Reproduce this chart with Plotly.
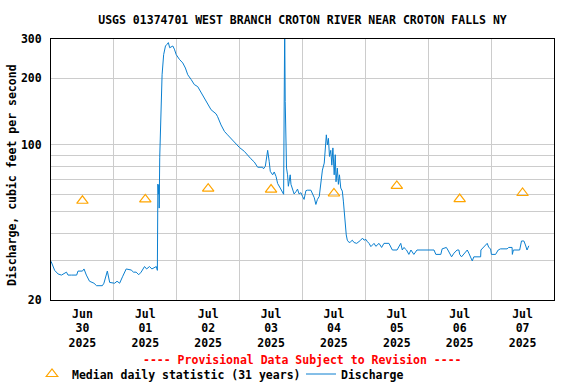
import pandas as pd
import plotly.graph_objects as go

# ---- data ----
# hours since 2025-06-30 00:00 and discharge (cfs)
hours = [0.0, 1.4, 2.7, 4.0, 5.9, 6.5, 7.8, 9.8, 10.3, 12.0, 12.6, 13.0, 13.5, 14.7, 16.4, 17.4,
         18.6, 19.6, 20.2, 21.0, 21.5, 22.4, 24.3, 25.2, 26.2, 27.4, 28.7, 30.6, 31.5, 32.5, 33.5,
         34.4, 35.7, 36.5, 37.6, 38.5, 39.5, 40.2, 40.6, 40.8, 41.0, 41.2, 41.3, 41.5, 42.1, 42.4,
         43.0, 43.7, 44.3, 44.8, 45.3, 45.9, 46.5, 47.1, 47.8, 49.0, 50.3, 51.3, 52.2, 53.5, 54.7,
         56.0, 57.3, 58.6, 59.8, 61.1, 63.0, 63.6, 64.9, 66.2, 67.4, 68.7, 70.4, 71.9, 73.8, 75.0,
         76.3, 77.6, 78.3, 78.9, 80.8, 81.1, 81.8, 82.7, 83.3, 83.7, 84.6, 85.2, 85.9, 86.5, 87.5,
         88.2, 88.8, 89.0, 89.2, 89.4, 89.7, 89.9, 90.3, 90.6, 90.9, 91.3, 91.6, 92.2, 92.8, 93.5,
         94.1, 94.7, 95.4, 96.0, 96.6, 97.3, 97.9, 99.2, 99.8, 100.5, 101.1, 101.7, 102.4, 103.0,
         103.6, 104.3, 104.7, 105.1, 105.5, 105.9, 106.3, 106.8, 107.2, 107.6, 108.1, 108.5, 108.8,
         109.3, 109.7, 110.1, 110.6, 111.2, 111.6, 112.2, 112.7, 113.1, 113.8, 114.4, 115.0, 115.7,
         116.7, 118.2, 118.9, 119.5, 120.2, 120.8, 121.4, 122.1, 123.3, 124.0, 125.2, 126.2, 127.1,
         129.0, 130.3, 132.1, 133.5, 134.1, 134.7, 135.7, 136.6, 137.4, 138.5, 139.7, 146.2, 146.9,
         148.8, 149.3, 150.9, 151.5, 152.1, 152.9, 153.8, 155.0, 155.7, 156.0, 156.7, 157.6, 158.9,
         159.5, 160.2, 160.8, 161.4, 164.0, 164.1, 165.2, 166.5, 167.1, 167.8, 168.1, 169.7, 170.7,
         171.6, 174.1, 174.7, 176.0, 176.1, 176.5, 178.9, 179.6, 180.5, 181.1, 181.7, 182.4]
discharge = [29.9, 27.2, 26.2, 25.9, 26.7, 25.9, 25.9, 25.9, 27.0, 27.0, 27.6, 26.5, 25.9, 24.3, 23.8, 23.2,
             23.2, 23.2, 23.8, 25.5, 27.0, 24.0, 23.8, 24.3, 23.8, 25.6, 27.6, 27.3, 26.7, 26.7, 26.0,
             26.7, 28.3, 27.6, 28.3, 27.6, 27.9, 28.3, 27.2, 66.6, 60.0, 66.0, 51.9, 88.0, 157, 207,
             255, 279, 284, 289, 274, 276, 279, 270, 255, 243, 234, 222, 207, 197, 187,
             183, 172, 160, 152, 144, 138, 134, 123, 115, 111, 107, 102, 97.4, 93.5, 89.7,
             86.6, 83.7, 80.6, 79.3, 79.3, 78.0, 80.0, 94.5, 84.0, 76.0, 73.3, 75.5, 72.1, 67.0, 63.9,
             61.9, 59.9, 149.6, 340, 157, 93.4, 78.6, 73.3, 65.1, 68.2, 73.3, 66.4, 63.1, 60.1, 61.5,
             63.2, 60.1, 60.9, 58.6, 56.8, 62.2, 62.5, 62.5, 59.8, 57.8, 53.9, 56.8, 58.6, 68.2,
             77.0, 82.8, 93.4, 111, 100, 107, 88.7, 94.5, 81.0, 96.9, 73.3, 90.3, 68.2,
             78.6, 66.4, 73.3, 63.9, 61.9, 55.8, 43.7, 39.3, 37.2, 36.3, 36.6, 37.2, 36.3,
             36.0, 37.2, 38.0, 37.2, 37.5, 36.6, 36.0, 34.8, 36.0, 34.9, 36.0, 34.5, 36.0,
             36.0, 33.6, 33.6, 36.0, 33.6, 34.5, 33.6, 32.1, 33.6, 32.1, 33.6, 33.6, 32.1,
             32.1, 34.0, 34.5, 33.6, 32.5, 31.3, 32.5, 33.6, 33.6, 32.1, 31.3, 32.1, 33.6,
             32.5, 31.3, 30.0, 31.3, 31.3, 33.6, 34.8, 36.0, 34.5, 34.0, 32.1, 32.1, 33.6,
             34.0, 34.0, 34.5, 34.5, 32.1, 33.6, 33.6, 36.9, 36.9, 35.4, 33.6, 35.1]

median_dates = ["2025-06-30 12:00", "2025-07-01 12:00", "2025-07-02 12:00", "2025-07-03 12:00",
                "2025-07-04 12:00", "2025-07-05 12:00", "2025-07-06 12:00", "2025-07-07 12:00"]
median_flow = [56.0, 56.8, 63.5, 62.9, 60.4, 65.3, 57.0, 60.7]

day_label_dates = median_dates
day_labels = ["Jun<br>30<br>2025", "Jul<br>01<br>2025", "Jul<br>02<br>2025", "Jul<br>03<br>2025",
              "Jul<br>04<br>2025", "Jul<br>05<br>2025", "Jul<br>06<br>2025", "Jul<br>07<br>2025"]
midnights = ["2025-07-01", "2025-07-02", "2025-07-03", "2025-07-04", "2025-07-05", "2025-07-06",
             "2025-07-07"]
y_tick_vals = [20, 30, 40, 50, 60, 70, 80, 90, 100, 200, 300]
y_tick_text = ["20", "", "", "", "", "", "", "", "100", "200", "300"]
x_range = ["2025-06-30 00:00", "2025-07-08 00:00"]

times = pd.Timestamp("2025-06-30") + pd.to_timedelta(hours, unit="h")

FONT = "DejaVu Sans Mono"
f = dict(family=FONT, size=11.5, color="black", weight="bold")

PW, PH = 503, 261  # plot area size in px (l=51, t=39)

fig = go.Figure()
fig.add_trace(go.Scatter(x=times, y=discharge, mode="lines", name="Discharge",
                         line=dict(color="#0a7fd0", width=1), legend="legend2"))
fig.add_trace(go.Scatter(x=median_dates, y=median_flow, mode="markers", xaxis="x2",
                         name="Median daily statistic (31 years)",
                         marker=dict(symbol="triangle-up-open", size=10, color="#ffa500",
                                     line=dict(width=1.2, color="#ffa500")),
                         legend="legend"))

leg_common = dict(orientation="h", xanchor="left", yanchor="middle", font=f,
                  bgcolor="rgba(0,0,0,0)", itemwidth=30, borderwidth=0)

fig.update_layout(
    width=576, height=384,
    margin=dict(l=51, r=22, t=39, b=84, autoexpand=False),
    paper_bgcolor="white", plot_bgcolor="white",
    font=f,
    title=dict(text="USGS 01374701 WEST BRANCH CROTON RIVER NEAR CROTON FALLS NY",
               x=0.5, xref="paper", y=1 - 20 / 384, yref="container", yanchor="middle",
               xanchor="center", font=f),
    xaxis=dict(type="date", range=x_range, tickmode="array", tickvals=midnights,
               showticklabels=False, ticks="", showgrid=True, gridcolor="#cccccc", gridwidth=1,
               showline=True, linecolor="black", linewidth=1, mirror=True, zeroline=False),
    xaxis2=dict(type="date", range=x_range, overlaying="x", side="bottom", anchor="y",
                tickmode="array", tickvals=day_label_dates, ticktext=day_labels,
                showgrid=False, ticks="", tickfont=f, showline=False, zeroline=False,
                ticklabelstandoff=5),
    yaxis=dict(type="log", range=[1.30103, 2.4771213], tickmode="array", tickvals=y_tick_vals,
               ticktext=y_tick_text, showgrid=True, gridcolor="#cccccc", gridwidth=1, ticks="",
               showline=True, linecolor="black", linewidth=1, mirror=True, zeroline=False,
               tickfont=f, ticklabelstandoff=6),
    showlegend=True,
    legend=dict(x=(32 - 51) / PW, y=(300 - 374) / PH, **leg_common),
    legend2=dict(x=(301 - 51) / PW, y=(300 - 374) / PH, **leg_common),
    annotations=[
        dict(text="---- Provisional Data Subject to Revision ----", xref="paper", yref="paper",
             x=0.5, y=(300 - 360) / PH, xanchor="center", yanchor="middle", showarrow=False,
             font=dict(family=FONT, size=11.5, color="#ff0000", weight="bold")),
        dict(text="Discharge, cubic feet per second", xref="paper", yref="paper",
             x=(11.3 - 51) / PW, y=(300 - 174.7) / PH, xanchor="center", yanchor="middle",
             textangle=-90, showarrow=False, font=f),
    ],
)

fig.write_html("out.html", config={"displayModeBar": False},
               post_script="document.body.style.margin='0px';document.body.style.padding='0px';")
